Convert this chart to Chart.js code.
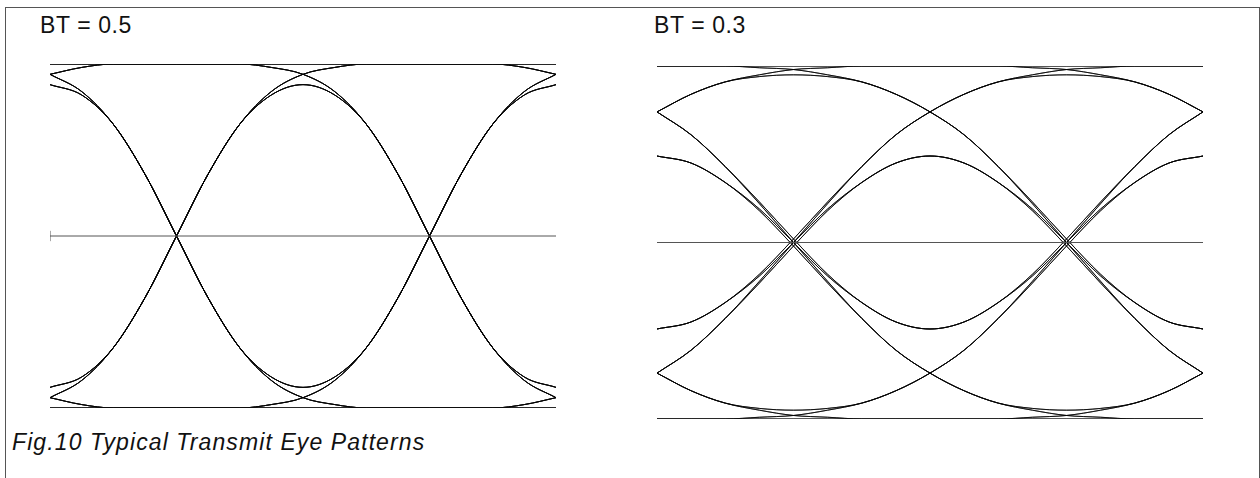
<!DOCTYPE html>
<html lang="en">
<head>
  <meta charset="UTF-8" />
  <title>Typical Transmit Eye Patterns</title>
  <script src="https://cdn.jsdelivr.net/npm/chart.js"></script>
  <style>
    body { margin: 0; background: #fff; width: 1260px; height: 478px; overflow: hidden; position: relative; font-family: "Liberation Sans", Arial, sans-serif; }
    #frame { position: absolute; left: 5px; top: 7px; width: 1255px; height: 480px; border: 1px solid #555; box-sizing: border-box; }
    .title { position: absolute; top: 14px; font-size: 23px; line-height: 23px; letter-spacing: 0.6px; color: #111; }
    #caption { position: absolute; left: 12px; top: 431px; font-size: 23px; line-height: 23px; font-style: italic; letter-spacing: 1.1px; color: #111; }
    canvas { position: absolute; }
  </style>
</head>
<body>
  <div id="frame"></div>
  <div class="title" style="left: 40px;">BT = 0.5</div>
  <div class="title" style="left: 654px;">BT = 0.3</div>
  <div id="caption">Fig.10 Typical Transmit Eye Patterns</div>

  <canvas id="eye05" width="514" height="352" style="left: 46px; top: 60px;"></canvas>
  <canvas id="eye03" width="554" height="361" style="left: 653px; top: 62px;"></canvas>

  <script>
    // time axis in bit periods, zero crossings at 0.5 and 1.5
    const tGrid = [0, 0.125, 0.25, 0.375, 0.5, 0.625, 0.75, 0.875, 1,
                   1.125, 1.25, 1.375, 1.5, 1.625, 1.75, 1.875, 2];
    const railLevels = [1, 0, -1];

    // BT = 0.5, traces whose middle bit is high
    const bt05Hi = [
      [1, 1, 1, 1, 1, 1, 1, 1, 1, 1, 1, 1, 1, 1, 1, 0.98, 0.94],
      [1, 1, 1, 1, 1, 1, 1, 0.98, 0.94, 0.84, 0.65, 0.36, 0, -0.36, -0.65, -0.82, -0.88],
      [1, 1, 1, 1, 1, 1, 1, 0.98, 0.94, 0.84, 0.65, 0.36, 0, -0.36, -0.65, -0.84, -0.94],
      [-0.88, -0.82, -0.65, -0.36, 0, 0.36, 0.65, 0.84, 0.94, 0.98, 1, 1, 1, 1, 1, 1, 1],
      [-0.88, -0.82, -0.65, -0.36, 0, 0.36, 0.65, 0.84, 0.94, 0.98, 1, 1, 1, 1, 1, 0.98, 0.94],
      [-0.88, -0.82, -0.65, -0.36, 0, 0.36, 0.65, 0.82, 0.88, 0.82, 0.65, 0.36, 0, -0.36, -0.65, -0.82, -0.88],
      [-0.88, -0.82, -0.65, -0.36, 0, 0.36, 0.65, 0.82, 0.88, 0.82, 0.65, 0.36, 0, -0.36, -0.65, -0.84, -0.94],
      [0.94, 0.98, 1, 1, 1, 1, 1, 1, 1, 1, 1, 1, 1, 1, 1, 1, 1],
      [0.94, 0.98, 1, 1, 1, 1, 1, 1, 1, 1, 1, 1, 1, 1, 1, 0.98, 0.94],
      [0.94, 0.98, 1, 1, 1, 1, 1, 0.98, 0.94, 0.84, 0.65, 0.36, 0, -0.36, -0.65, -0.82, -0.88],
      [0.94, 0.98, 1, 1, 1, 1, 1, 0.98, 0.94, 0.84, 0.65, 0.36, 0, -0.36, -0.65, -0.84, -0.94],
      [-0.94, -0.84, -0.65, -0.36, 0, 0.36, 0.65, 0.84, 0.94, 0.98, 1, 1, 1, 1, 1, 1, 1],
      [-0.94, -0.84, -0.65, -0.36, 0, 0.36, 0.65, 0.84, 0.94, 0.98, 1, 1, 1, 1, 1, 0.98, 0.94],
      [-0.94, -0.84, -0.65, -0.36, 0, 0.36, 0.65, 0.82, 0.88, 0.82, 0.65, 0.36, 0, -0.36, -0.65, -0.82, -0.88],
      [-0.94, -0.84, -0.65, -0.36, 0, 0.36, 0.65, 0.82, 0.88, 0.82, 0.65, 0.36, 0, -0.36, -0.65, -0.84, -0.94]
    ];
    // BT = 0.5, traces whose middle bit is low
    const bt05Lo = [
      [-1, -1, -1, -1, -1, -1, -1, -1, -1, -1, -1, -1, -1, -1, -1, -0.98, -0.94],
      [-1, -1, -1, -1, -1, -1, -1, -0.98, -0.94, -0.84, -0.65, -0.36, 0, 0.36, 0.65, 0.82, 0.88],
      [-1, -1, -1, -1, -1, -1, -1, -0.98, -0.94, -0.84, -0.65, -0.36, 0, 0.36, 0.65, 0.84, 0.94],
      [0.88, 0.82, 0.65, 0.36, 0, -0.36, -0.65, -0.84, -0.94, -0.98, -1, -1, -1, -1, -1, -1, -1],
      [0.88, 0.82, 0.65, 0.36, 0, -0.36, -0.65, -0.84, -0.94, -0.98, -1, -1, -1, -1, -1, -0.98, -0.94],
      [0.88, 0.82, 0.65, 0.36, 0, -0.36, -0.65, -0.82, -0.88, -0.82, -0.65, -0.36, 0, 0.36, 0.65, 0.82, 0.88],
      [0.88, 0.82, 0.65, 0.36, 0, -0.36, -0.65, -0.82, -0.88, -0.82, -0.65, -0.36, 0, 0.36, 0.65, 0.84, 0.94],
      [-0.94, -0.98, -1, -1, -1, -1, -1, -1, -1, -1, -1, -1, -1, -1, -1, -1, -1],
      [-0.94, -0.98, -1, -1, -1, -1, -1, -1, -1, -1, -1, -1, -1, -1, -1, -0.98, -0.94],
      [-0.94, -0.98, -1, -1, -1, -1, -1, -0.98, -0.94, -0.84, -0.65, -0.36, 0, 0.36, 0.65, 0.82, 0.88],
      [-0.94, -0.98, -1, -1, -1, -1, -1, -0.98, -0.94, -0.84, -0.65, -0.36, 0, 0.36, 0.65, 0.84, 0.94],
      [0.94, 0.84, 0.65, 0.36, 0, -0.36, -0.65, -0.84, -0.94, -0.98, -1, -1, -1, -1, -1, -1, -1],
      [0.94, 0.84, 0.65, 0.36, 0, -0.36, -0.65, -0.84, -0.94, -0.98, -1, -1, -1, -1, -1, -0.98, -0.94],
      [0.94, 0.84, 0.65, 0.36, 0, -0.36, -0.65, -0.82, -0.88, -0.82, -0.65, -0.36, 0, 0.36, 0.65, 0.82, 0.88],
      [0.94, 0.84, 0.65, 0.36, 0, -0.36, -0.65, -0.82, -0.88, -0.82, -0.65, -0.36, 0, 0.36, 0.65, 0.84, 0.94]
    ];

    // BT = 0.3, traces whose middle bit is high
    const bt03Hi = [
      [1, 1, 1, 1, 1, 1, 1, 1, 1, 1, 1, 0.99, 0.98, 0.95, 0.91, 0.84, 0.74],
      [1, 1, 1, 0.99, 0.98, 0.95, 0.91, 0.84, 0.74, 0.61, 0.43, 0.23, 0.02, -0.18, -0.34, -0.45, -0.49],
      [1, 1, 1, 0.99, 0.98, 0.95, 0.91, 0.84, 0.74, 0.61, 0.43, 0.22, 0, -0.22, -0.43, -0.61, -0.74],
      [-0.49, -0.45, -0.34, -0.18, 0.02, 0.23, 0.43, 0.61, 0.74, 0.84, 0.91, 0.95, 0.98, 0.99, 1, 1, 1],
      [-0.49, -0.45, -0.34, -0.18, 0.02, 0.23, 0.43, 0.61, 0.74, 0.84, 0.91, 0.94, 0.95, 0.94, 0.91, 0.84, 0.74],
      [-0.49, -0.45, -0.34, -0.19, 0, 0.19, 0.34, 0.45, 0.49, 0.45, 0.34, 0.19, 0, -0.19, -0.34, -0.45, -0.49],
      [-0.49, -0.45, -0.34, -0.19, 0, 0.19, 0.34, 0.45, 0.49, 0.45, 0.34, 0.18, -0.02, -0.23, -0.43, -0.61, -0.74],
      [0.74, 0.84, 0.91, 0.95, 0.98, 0.99, 1, 1, 1, 1, 1, 1, 1, 1, 1, 1, 1],
      [0.74, 0.84, 0.91, 0.95, 0.98, 0.99, 1, 1, 1, 1, 1, 0.99, 0.98, 0.95, 0.91, 0.84, 0.74],
      [0.74, 0.84, 0.91, 0.94, 0.95, 0.94, 0.91, 0.84, 0.74, 0.61, 0.43, 0.23, 0.02, -0.18, -0.34, -0.45, -0.49],
      [0.74, 0.84, 0.91, 0.94, 0.95, 0.94, 0.91, 0.84, 0.74, 0.61, 0.43, 0.22, 0, -0.22, -0.43, -0.61, -0.74],
      [-0.74, -0.61, -0.43, -0.22, 0, 0.22, 0.43, 0.61, 0.74, 0.84, 0.91, 0.95, 0.98, 0.99, 1, 1, 1],
      [-0.74, -0.61, -0.43, -0.22, 0, 0.22, 0.43, 0.61, 0.74, 0.84, 0.91, 0.94, 0.95, 0.94, 0.91, 0.84, 0.74],
      [-0.74, -0.61, -0.43, -0.23, -0.02, 0.18, 0.34, 0.45, 0.49, 0.45, 0.34, 0.19, 0, -0.19, -0.34, -0.45, -0.49],
      [-0.74, -0.61, -0.43, -0.23, -0.02, 0.18, 0.34, 0.45, 0.49, 0.45, 0.34, 0.18, -0.02, -0.23, -0.43, -0.61, -0.74]
    ];
    // BT = 0.3, traces whose middle bit is low
    const bt03Lo = [
      [-1, -1, -1, -1, -1, -1, -1, -1, -1, -1, -1, -0.99, -0.98, -0.95, -0.91, -0.84, -0.74],
      [-1, -1, -1, -0.99, -0.98, -0.95, -0.91, -0.84, -0.74, -0.61, -0.43, -0.23, -0.02, 0.18, 0.34, 0.45, 0.49],
      [-1, -1, -1, -0.99, -0.98, -0.95, -0.91, -0.84, -0.74, -0.61, -0.43, -0.22, 0, 0.22, 0.43, 0.61, 0.74],
      [0.49, 0.45, 0.34, 0.18, -0.02, -0.23, -0.43, -0.61, -0.74, -0.84, -0.91, -0.95, -0.98, -0.99, -1, -1, -1],
      [0.49, 0.45, 0.34, 0.18, -0.02, -0.23, -0.43, -0.61, -0.74, -0.84, -0.91, -0.94, -0.95, -0.94, -0.91, -0.84, -0.74],
      [0.49, 0.45, 0.34, 0.19, 0, -0.19, -0.34, -0.45, -0.49, -0.45, -0.34, -0.19, 0, 0.19, 0.34, 0.45, 0.49],
      [0.49, 0.45, 0.34, 0.19, 0, -0.19, -0.34, -0.45, -0.49, -0.45, -0.34, -0.18, 0.02, 0.23, 0.43, 0.61, 0.74],
      [-0.74, -0.84, -0.91, -0.95, -0.98, -0.99, -1, -1, -1, -1, -1, -1, -1, -1, -1, -1, -1],
      [-0.74, -0.84, -0.91, -0.95, -0.98, -0.99, -1, -1, -1, -1, -1, -0.99, -0.98, -0.95, -0.91, -0.84, -0.74],
      [-0.74, -0.84, -0.91, -0.94, -0.95, -0.94, -0.91, -0.84, -0.74, -0.61, -0.43, -0.23, -0.02, 0.18, 0.34, 0.45, 0.49],
      [-0.74, -0.84, -0.91, -0.94, -0.95, -0.94, -0.91, -0.84, -0.74, -0.61, -0.43, -0.22, 0, 0.22, 0.43, 0.61, 0.74],
      [0.74, 0.61, 0.43, 0.22, 0, -0.22, -0.43, -0.61, -0.74, -0.84, -0.91, -0.95, -0.98, -0.99, -1, -1, -1],
      [0.74, 0.61, 0.43, 0.22, 0, -0.22, -0.43, -0.61, -0.74, -0.84, -0.91, -0.94, -0.95, -0.94, -0.91, -0.84, -0.74],
      [0.74, 0.61, 0.43, 0.23, 0.02, -0.18, -0.34, -0.45, -0.49, -0.45, -0.34, -0.19, 0, 0.19, 0.34, 0.45, 0.49],
      [0.74, 0.61, 0.43, 0.23, 0.02, -0.18, -0.34, -0.45, -0.49, -0.45, -0.34, -0.18, 0.02, 0.23, 0.43, 0.61, 0.74]
    ];

    function traceDatasets(list) {
      return list.map(vals => ({
        data: vals.map((v, i) => ({ x: tGrid[i], y: v })),
        showLine: true,
        borderColor: 'rgba(0, 0, 0, 0.75)',
        borderWidth: 1,
        pointRadius: 0,
        tension: 0.4,
        cubicInterpolationMode: 'monotone',
        fill: false
      }));
    }

    function railDatasets() {
      return railLevels.map(level => ({
        data: [{ x: tGrid[0], y: level }, { x: tGrid[tGrid.length - 1], y: level }],
        showLine: true,
        borderColor: level === 0 ? '#555' : '#111',
        borderWidth: 1,
        pointRadius: 0
      }));
    }

    function drawEye(id, hi, lo, withTick) {
      const sets = [...railDatasets(), ...traceDatasets(hi), ...traceDatasets(lo)];
      if (withTick) {
        // small end marker on the left of the zero line
        sets.push({
          data: [{ x: 0, y: -0.03 }, { x: 0, y: 0.03 }],
          showLine: true,
          borderColor: '#555',
          borderWidth: 1,
          pointRadius: 0
        });
      }
      new Chart(document.getElementById(id), {
        type: 'scatter',
        data: { datasets: sets },
        options: {
          responsive: false,
          animation: false,
          layout: { padding: 4 },
          plugins: { legend: { display: false }, tooltip: { enabled: false } },
          scales: {
            x: { type: 'linear', min: 0, max: 2, display: false },
            y: { type: 'linear', min: -1, max: 1, display: false }
          }
        }
      });
    }

    drawEye('eye05', bt05Hi, bt05Lo, true);
    drawEye('eye03', bt03Hi, bt03Lo, false);
  </script>
</body>
</html>
